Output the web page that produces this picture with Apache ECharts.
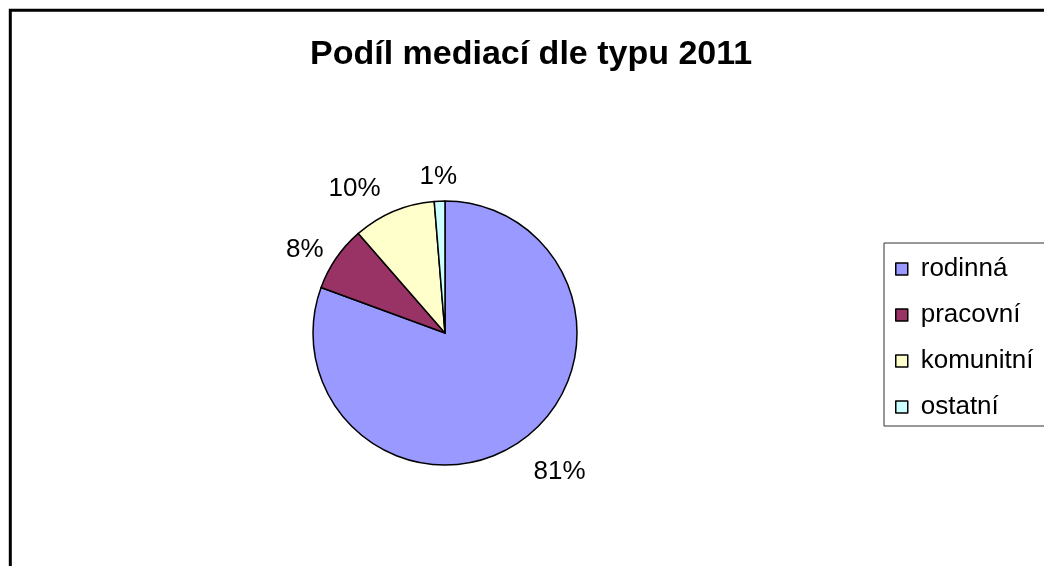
<!DOCTYPE html>
<html>
<head>
<meta charset="utf-8">
<script src="https://cdn.jsdelivr.net/npm/echarts@6/dist/echarts.min.js"></script>
<style>
  html, body { margin: 0; padding: 0; background: #fff; }
  #main { width: 1044px; height: 566px; }
</style>
</head>
<body>
<div id="main"></div>
<script>
// data
var nazev = 'Podíl mediací dle typu 2011';
var typy = ['rodinná', 'pracovní', 'komunitní', 'ostatní'];
var podily = [80.6, 8.0, 10.1, 1.3];
var barvy = ['#9999FF', '#993366', '#FFFFCC', '#CCFFFF'];

// posun popisku (jako v Excelu)
var posunX = [0, -1, 22, 23];
var posunY = [19, 0, -26, -10];

var myChart = echarts.init(document.getElementById('main'));

var data = [];
for (var i = 0; i < typy.length; i++) {
  data.push({ name: typy[i], value: podily[i], itemStyle: { color: barvy[i] } });
}

var option = {
  backgroundColor: '#fff',
  animation: false,
  title: {
    text: nazev,
    left: 310,
    top: 38,
    padding: 0,
    textStyle: { fontFamily: 'Liberation Sans', fontSize: 34, fontWeight: 'bold', color: '#000' }
  },
  // ramecek grafu
  graphic: [{
    type: 'rect',
    shape: { x: 10.3, y: 10.3, width: 1200, height: 800 },
    style: { fill: null, stroke: '#000', lineWidth: 3 }
  }],
  legend: {
    orient: 'vertical',
    left: 884,
    top: 243,
    padding: [13, 60, 6, 11],
    itemGap: 20,
    itemWidth: 12,
    itemHeight: 12,
    icon: 'rect',
    borderColor: '#333',
    borderWidth: 1,
    itemStyle: { borderColor: '#000', borderWidth: 1.5 },
    textStyle: { fontFamily: 'Liberation Sans', fontSize: 26, lineHeight: 26, color: '#000', padding: [0, 0, 0, 8] },
    data: typy
  },
  series: [{
    type: 'pie',
    center: [445, 333],
    radius: 132,
    startAngle: 90,
    clockwise: true,
    itemStyle: { borderColor: '#000', borderWidth: 1.5 },
    label: {
      show: true,
      position: 'outside',
      fontFamily: 'Liberation Sans',
      fontSize: 26,
      color: '#000',
      formatter: function (p) { return Math.round(p.percent) + '%'; }
    },
    labelLine: { show: false, length: 14, length2: 0 },
    labelLayout: function (p) {
      return { dx: posunX[p.dataIndex], dy: posunY[p.dataIndex] };
    },
    emphasis: { disabled: true },
    data: data
  }]
};

myChart.setOption(option);
</script>
</body>
</html>
